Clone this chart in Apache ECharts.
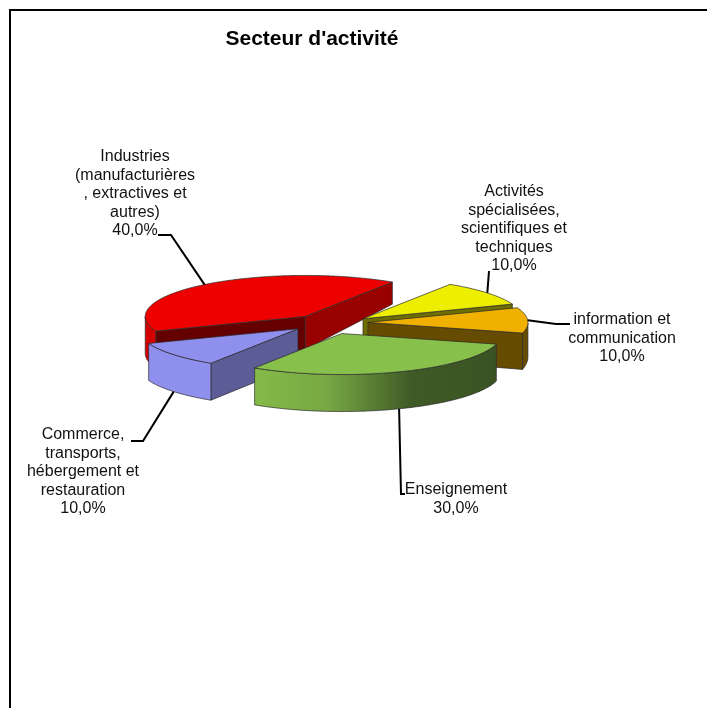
<!DOCTYPE html>
<html lang="fr">

<head>
    <meta charset="utf-8">
    <title>Secteur d'activité</title>
    <script src="https://cdn.jsdelivr.net/npm/echarts@6/dist/echarts.min.js"></script>
    <style type="text/css">
    html, body {
        margin: 0;
        background: #fff;
    }

    #chart {
        width: 707px;
        height: 708px;
    }
    </style>
</head>

<body>
    <div id="chart"></div>
    <script type="text/javascript">
    // data, clockwise from the first slice
    var categories = [
        'Industries\n(manufacturières\n, extractives et\nautres)',
        'Activités\nspécialisées,\nscientifiques et\ntechniques',
        'information et\ncommunication',
        'Enseignement',
        'Commerce,\ntransports,\nhébergement et\nrestauration'
    ];
    var shares = [40, 10, 10, 30, 10];

    // look of each slice, same order as above
    var topColors = ['#ee0000', '#eeee00', '#efb000', '#88c04c', '#8f8fee'];
    var outerColors = ['#d40000', '#6e6e00', '#664c00', null, '#8f8fee'];
    var startWallColors = ['#640000', '#6e6e00', '#664c00', '#3b5323', '#5c5c96'];
    var endWallColors = ['#990000', '#6e6e00', '#664c00', '#3b5323', '#5c5c96'];
    var explode = [33, 45, 42, 44, 36];
    var nudge = [[0, 0], [2, 3], [0, 0], [0, 0], [0, 0]];
    var labelBoxes = [[135, 157], [514, 192], [622, 320], [456, 490], [83, 435]];
    // elbow of each leader line, from the label side to the slice side
    var leaderEnds = [
        [[158, 235], [171, 235]],
        [[489, 271]],
        [[570, 324], [556, 324]],
        [[405, 494], [401, 494]],
        [[131, 441], [143, 441]]
    ];
    var paintOrder = [0, 1, 2, 4, 3];

    // flattened pie
    var CX = 326, CY = 323, RX = 160, RY = 41;
    var FIRST_ANGLE = 249;
    var LINE_H = 18.5;

    function rad(d) {
        return d * Math.PI / 180;
    }

    function apexOf(i, mid) {
        return [
            CX + nudge[i][0] + explode[i] * Math.sin(rad(mid)),
            CY + nudge[i][1] - explode[i] * (RY / RX) * Math.cos(rad(mid))
        ];
    }

    function rimPoint(apex, angle) {
        return [apex[0] + RX * Math.sin(rad(angle)), apex[1] - RY * Math.cos(rad(angle))];
    }

    // the wall looks shorter at the back and a bit taller on the left
    function wallDepth(p) {
        var dy = p[1] - 316;
        var h = 33 + (dy < 0 ? 0.32 : 0.2) * dy + 0.05 * Math.max(0, 305 - p[0]);
        return Math.min(37, h);
    }

    function down(p) {
        return [p[0], p[1] + wallDepth(p)];
    }

    var total = shares.reduce(function (a, b) { return a + b; }, 0);
    var startAngles = [];
    var acc = FIRST_ANGLE;
    shares.forEach(function (v) {
        startAngles.push(acc);
        acc += v / total * 360;
    });

    function wallShape(a, b, fill) {
        return {
            type: 'polygon',
            shape: { points: [a, b, down(b), down(a)] },
            style: { fill: fill, stroke: '#2b2b2b', lineWidth: 0.7, lineJoin: 'round' }
        };
    }

    // a wall is seen only if its outside looks towards the front of the pie
    function facesFront(normalAngle) {
        return Math.cos(rad(normalAngle)) < 0;
    }

    function renderSlice(params, api) {
        var i = api.value(0);
        var from = startAngles[i];
        var to = from + shares[i] / total * 360;
        var mid = (from + to) / 2;
        var apex = apexOf(i, mid);

        var rim = [];
        var frontRim = [];
        for (var a = from; a <= to + 0.001; a += 1) {
            var p = rimPoint(apex, a);
            rim.push(p);
            if (facesFront(a)) {
                frontRim.push(p);
            }
        }

        var children = [];
        if (facesFront(from - 90)) {
            children.push(wallShape(apex, rim[0], startWallColors[i]));
        }
        if (facesFront(to + 90)) {
            children.push(wallShape(apex, rim[rim.length - 1], endWallColors[i]));
        }
        if (frontRim.length > 1) {
            var outerFill = outerColors[i] || new echarts.graphic.LinearGradient(0, 0, 1, 0, [
                { offset: 0, color: '#84bb48' },
                { offset: 0.3, color: '#78a844' },
                { offset: 0.65, color: '#3f5a26' },
                { offset: 1, color: '#3b5323' }
            ]);
            children.push({
                type: 'polygon',
                shape: { points: frontRim.concat(frontRim.map(down).reverse()) },
                style: { fill: outerFill, stroke: '#2b2b2b', lineWidth: 0.7, lineJoin: 'round' }
            });
        }
        children.push({
            type: 'polygon',
            shape: { points: [apex].concat(rim) },
            style: { fill: topColors[i], stroke: '#2b2b2b', lineWidth: 0.7, lineJoin: 'round' }
        });

        // leader line goes to the middle of the rim, or under the wall on the front
        var anchor = rimPoint(apex, mid);
        if (Math.cos(rad(mid)) < -0.3) {
            anchor = down(anchor);
        }
        children.push({
            type: 'polyline',
            shape: { points: leaderEnds[i].concat([anchor]) },
            style: { fill: null, stroke: '#000', lineWidth: 2 }
        });

        var lines = categories[i].split('\n');
        lines.push(shares[i].toFixed(1).replace('.', ',') + '%');
        children.push({
            type: 'text',
            x: labelBoxes[i][0],
            y: labelBoxes[i][1] - LINE_H / 2,
            style: {
                text: lines.join('\n'),
                align: 'center',
                verticalAlign: 'top',
                lineHeight: LINE_H,
                font: '16px "Liberation Sans", Arial, sans-serif',
                fill: '#111'
            }
        });

        return { type: 'group', children: children };
    }

    var chart = echarts.init(document.getElementById('chart'), null, { renderer: 'canvas' });

    chart.setOption({
        animation: false,
        backgroundColor: '#fff',
        title: {
            text: "Secteur d'activité",
            left: 307,
            top: 24,
            textAlign: 'center',
            textStyle: {
                fontFamily: '"Liberation Sans", Arial, sans-serif',
                fontSize: 21,
                fontWeight: 'bold',
                color: '#000'
            }
        },
        // frame of the pasted chart, only top and left are in view
        graphic: [{
            type: 'polyline',
            shape: { points: [[10, 708], [10, 10], [707, 10]] },
            style: { fill: null, stroke: '#000', lineWidth: 2 }
        }],
        series: [{
            type: 'custom',
            coordinateSystem: 'none',
            renderItem: renderSlice,
            data: paintOrder.map(function (i) { return [i, shares[i]]; })
        }]
    });
    </script>
</body>

</html>
